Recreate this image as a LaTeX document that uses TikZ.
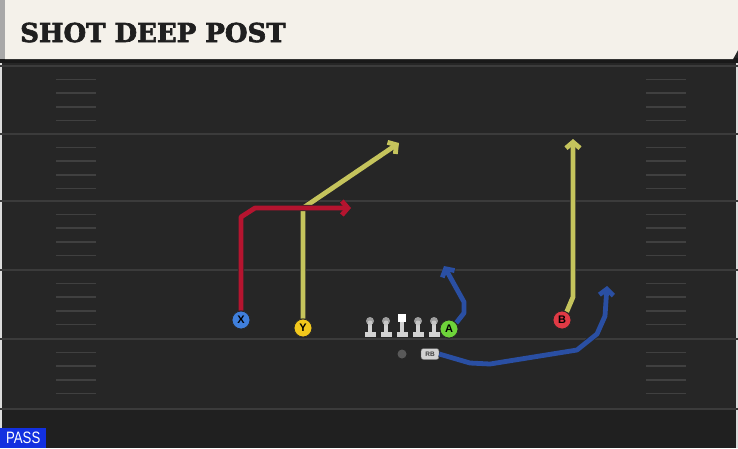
\documentclass[tikz,border=0pt]{standalone}
\usepackage{fontspec}
\usetikzlibrary{arrows.meta}
\newfontfamily\titlefont[BoldFeatures={FakeBold=2.5}]{DejaVu Serif}
\newfontfamily\labelfont{Liberation Sans}
\newfontfamily\passfont[FakeStretch=0.8]{Liberation Sans}

\definecolor{field}{HTML}{262626}
\definecolor{fieldlow}{HTML}{202020}
\definecolor{yardgray}{HTML}{3b3b3b}
\definecolor{hashgray}{HTML}{404040}
\definecolor{cream}{HTML}{F4F1EA}
\definecolor{stripgray}{HTML}{A8A8A8}
\definecolor{xblue}{HTML}{3F7FDC}
\definecolor{yyellow}{HTML}{F2C81C}
\definecolor{agreen}{HTML}{6ED43A}
\definecolor{bred}{HTML}{E03A45}
\definecolor{routered}{HTML}{B5142F}
\definecolor{routeyellow}{HTML}{C5C45C}
\definecolor{routeblue}{HTML}{2A4FA3}
\definecolor{passblue}{HTML}{1230E0}
\definecolor{olgray}{HTML}{D2D2D2}

\begin{document}
\begin{tikzpicture}[x=1pt,y=-1pt,
  yardline/.style={draw=yardgray, line width=2pt},
  hash/.style={draw=hashgray, line width=1.5pt},
  player/.style={circle, draw=black!85, line width=0.8pt, minimum size=18pt,
    inner sep=0pt, font=\labelfont\bfseries\fontsize{11}{11}\selectfont},
  route/.style={line width=4.8pt, line join=round,
    -{Straight Barb[length=6pt,width=14pt]},
    preaction={draw=black!85, line width=6.2pt}},
  lineman/.style={fill=olgray}]
\useasboundingbox (0,0) rectangle (738,448);

% field
\fill[field] (0,0) rectangle (738,448);
\fill[fieldlow] (0,409) rectangle (738,448);
\fill[stripgray!40] (0,62) rectangle (2,448);
\fill[stripgray!40] (736,62) rectangle (738,448);
\foreach \y in {66,134,201,270,339,409}
  \draw[yardline] (0,\y) -- (738,\y);
\foreach \y in {66,134,201,270,339}
  \foreach \k in {1,...,4} {
    \draw[hash] (56,\y+13.6*\k) -- (96,\y+13.6*\k);
    \draw[hash] (646,\y+13.6*\k) -- (686,\y+13.6*\k);
  }

% title bar
\fill[black!90] (0,58) rectangle (738,63);
\fill[cream] (5,0) -- (738,0) -- (738,50) -- (733,59) -- (5,59) -- cycle;
\fill[stripgray] (0,0) rectangle (5,59);
\node[anchor=base west, inner sep=0pt, text=black!88,
  font=\titlefont\bfseries\fontsize{26}{26}\selectfont] (title) at (20,42) {SHOT DEEP POST};

% players
\node[player, fill=xblue] (X) at (241,320) {X};
\node[player, fill=yyellow] (Y) at (303,328) {Y};
\node[player, fill=agreen] (A) at (449,329) {A};
\node[player, fill=bred] (B) at (562,320) {B};
\node[circle, fill=gray!70!black, minimum size=9pt, inner sep=0pt] (QB) at (402,354) {};
\node[rounded corners=2.5pt, fill=olgray, draw=black!60, minimum width=18pt, minimum height=11pt,
  inner sep=0pt, text=black!75, font=\labelfont\bfseries\fontsize{6.5}{6.5}\selectfont] (RB) at (430,354) {RB};

% offensive line
\foreach \x in {370,386,418,434} {
  \fill[lineman] (\x-2.3,323) rectangle (\x+2.3,332);
  \fill[lineman] (\x-5.5,331.5) rectangle (\x+5.5,337);
  \fill[gray!75] (\x,321) circle (4pt);
  \fill[gray!45] (\x,323) circle (2.5pt);
}
\fill[lineman] (399.7,322) rectangle (404.3,332);
\fill[lineman] (396.5,331.5) rectangle (407.5,337);
\fill[white] (398,313.5) rectangle (406,322);

% routes
\coordinate (yend) at (399,143);
\coordinate (xend) at (351,208);
\coordinate (bend) at (573,139);
\coordinate (aend) at (444,266);
\coordinate (rbend) at (607,286);

\draw[route, routeyellow] (Y.north) -- (303,208) -- (yend);
\draw[route, routered] (X.north) -- (241,217) -- (255,208) -- (xend);
\draw[route, routeyellow] (B.60) -- (573,297) -- (bend);
\draw[route, routeblue] (A.40) -- (464,313) -- (464,302) -- (aend);
\draw[route, routeblue] (RB.east) -- (470,363) -- (490,364) -- (577,350)
  -- (597,334) -- (605,316) -- (rbend);

\node[player, fill=xblue] at (X) {X};
\node[player, fill=yyellow] at (Y) {Y};
\node[player, fill=agreen] at (A) {A};
\node[player, fill=bred] at (B) {B};

% play type
\node[anchor=south west, fill=passblue, text=white, minimum width=46pt, minimum height=20pt,
  inner sep=0pt, font=\passfont\fontsize{16.5}{16.5}\selectfont] (pass) at (0,448) {PASS};
\end{tikzpicture}
\end{document}
